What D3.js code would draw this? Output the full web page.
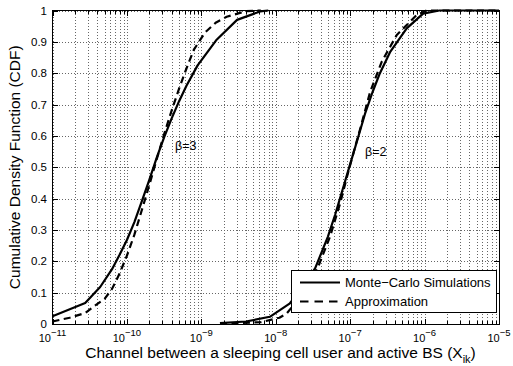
<!DOCTYPE html>
<html>
<head>
<meta charset="utf-8">
<script src="https://cdn.jsdelivr.net/npm/d3@7"></script>
<style>
  body { margin: 0; background: #fff; }
  text { font-family: "Liberation Sans", Arial, Helvetica, sans-serif; fill: #000; }
  .domain { display: none; }
  .grid line { stroke: #666; stroke-dasharray: 1,2; shape-rendering: crispEdges; }
  .ticks line { stroke: #000; shape-rendering: crispEdges; }
</style>
</head>
<body>
<div id="chart"></div>
<script>
// chart data
var xDecades = [1e-11, 1e-10, 1e-9, 1e-8, 1e-7, 1e-6, 1e-5];
var xExponents = ["\u221211", "\u221210", "\u22129", "\u22128", "\u22127", "\u22126", "\u22125"];
var yTicks = [0, 0.1, 0.2, 0.3, 0.4, 0.5, 0.6, 0.7, 0.8, 0.9, 1];
var yTickLabels = ["0", "0.1", "0.2", "0.3", "0.4", "0.5", "0.6", "0.7", "0.8", "0.9", "1"];
var legendNames = ["Monte\u2212Carlo Simulations", "Approximation"];
var curveLabels = ["\u03b2=3", "\u03b2=2"];

// beta = 3, Monte-Carlo
var beta3Sim = [
  [1.0e-11, 0.025], [2.75e-11, 0.067], [4.37e-11, 0.118], [6.31e-11, 0.175],
  [7.94e-11, 0.22], [1.0e-10, 0.268], [1.26e-10, 0.325], [1.58e-10, 0.39],
  [2.0e-10, 0.46], [2.51e-10, 0.53], [3.16e-10, 0.595], [3.98e-10, 0.655],
  [5.01e-10, 0.71], [6.31e-10, 0.76], [8.91e-10, 0.825], [1.58e-9, 0.905],
  [3.02e-9, 0.97], [6.17e-9, 0.997], [7.94e-9, 1.0]
];
// beta = 3, approximation
var beta3Approx = [
  [1.0e-11, 0.008], [1.70e-11, 0.02], [2.75e-11, 0.035], [3.55e-11, 0.055],
  [5.01e-11, 0.08], [6.31e-11, 0.112], [7.94e-11, 0.16], [1.0e-10, 0.218],
  [1.26e-10, 0.285], [1.58e-10, 0.362], [2.0e-10, 0.443], [2.51e-10, 0.525],
  [3.16e-10, 0.605], [3.98e-10, 0.68], [5.01e-10, 0.75], [6.31e-10, 0.815],
  [7.94e-10, 0.875], [1.12e-9, 0.93], [1.58e-9, 0.962], [2.19e-9, 0.98],
  [3.98e-9, 0.998], [6.31e-9, 1.0]
];
// beta = 2, Monte-Carlo
var beta2Sim = [
  [1.78e-9, 0.003], [3.98e-9, 0.008], [8.32e-9, 0.023], [1.55e-8, 0.066],
  [2.34e-8, 0.119], [3.39e-8, 0.178], [5.01e-8, 0.278], [6.31e-8, 0.35],
  [7.94e-8, 0.43], [1.0e-7, 0.51], [1.26e-7, 0.59], [1.58e-7, 0.67],
  [2.0e-7, 0.74], [2.51e-7, 0.80], [3.47e-7, 0.869], [5.75e-7, 0.943],
  [9.55e-7, 0.99], [1.58e-6, 1.0], [1.0e-5, 1.0]
];
// beta = 2, approximation
var beta2Approx = [
  [1.78e-9, 0.001], [6.31e-9, 0.006], [1.12e-8, 0.02], [1.41e-8, 0.034],
  [2.34e-8, 0.098], [3.72e-8, 0.183], [5.37e-8, 0.279], [7.33e-8, 0.385],
  [9.55e-8, 0.49], [1.12e-7, 0.55], [1.41e-7, 0.635], [1.86e-7, 0.741],
  [2.66e-7, 0.837], [4.23e-7, 0.922], [7.85e-7, 0.986], [1.07e-6, 1.0],
  [1.0e-5, 1.0]
];

var svgWidth = 513;
var svgHeight = 366;
var margin = {top: 10.5, right: 14, bottom: 42, left: 52.5};
var width = svgWidth - margin.left - margin.right;
var height = svgHeight - margin.top - margin.bottom;

var svg = d3.select("#chart")
  .append("svg")
  .attr("width", svgWidth)
  .attr("height", svgHeight);

var chartGroup = svg.append("g")
  .attr("transform", `translate(${margin.left}, ${margin.top})`);

var x = d3.scaleLog().domain([1e-11, 1e-5]).range([0, width]);
var y = d3.scaleLinear().domain([0, 1]).range([height, 0]);

// minor log positions 2..9 in every decade
var xMinor = [];
xDecades.slice(0, -1).forEach(function(d) {
  for (var k = 2; k <= 9; k++) xMinor.push(d * k);
});

// grid lines (dotted)
chartGroup.append("g").attr("class", "grid")
  .attr("transform", `translate(0, ${height})`)
  .call(d3.axisBottom(x).tickValues(xDecades.concat(xMinor)).tickSize(-height).tickFormat(""));
chartGroup.append("g").attr("class", "grid")
  .call(d3.axisLeft(y).tickValues(yTicks).tickSize(-width).tickFormat(""));

// inward tick marks on all four sides
chartGroup.append("g").attr("class", "ticks")
  .attr("transform", `translate(0, ${height})`)
  .call(d3.axisBottom(x).tickValues(xDecades).tickSize(-5).tickFormat(""));
chartGroup.append("g").attr("class", "ticks")
  .attr("transform", `translate(0, ${height})`)
  .call(d3.axisBottom(x).tickValues(xMinor).tickSize(-3).tickFormat(""));
chartGroup.append("g").attr("class", "ticks")
  .call(d3.axisTop(x).tickValues(xDecades).tickSize(-5).tickFormat(""));
chartGroup.append("g").attr("class", "ticks")
  .call(d3.axisTop(x).tickValues(xMinor).tickSize(-3).tickFormat(""));
chartGroup.append("g").attr("class", "ticks")
  .call(d3.axisLeft(y).tickValues(yTicks).tickSize(-5).tickFormat(""));
chartGroup.append("g").attr("class", "ticks")
  .attr("transform", `translate(${width}, 0)`)
  .call(d3.axisRight(y).tickValues(yTicks).tickSize(-5).tickFormat(""));

// frame
chartGroup.append("rect")
  .attr("width", width)
  .attr("height", height)
  .attr("fill", "none")
  .attr("stroke", "#000")
  .attr("stroke-width", 1)
  .attr("shape-rendering", "crispEdges");

// curves
var line = d3.line()
  .x(d => x(d[0]))
  .y(d => y(d[1]));

var curves = [
  {data: beta3Sim, dash: null},
  {data: beta3Approx, dash: "7,4.5"},
  {data: beta2Sim, dash: null},
  {data: beta2Approx, dash: "7,4.5"}
];
curves.forEach(function(c) {
  chartGroup.append("path")
    .datum(c.data)
    .attr("d", line)
    .attr("fill", "none")
    .attr("stroke", "#000")
    .attr("stroke-width", 2.2)
    .attr("stroke-linejoin", "round")
    .attr("stroke-dasharray", c.dash);
});

// y tick labels
chartGroup.selectAll(".ylab")
  .data(yTicks)
  .enter()
  .append("text")
  .attr("x", -5.5)
  .attr("y", d => y(d))
  .attr("dy", "0.36em")
  .attr("text-anchor", "end")
  .attr("font-size", "11.5px")
  .text((d, i) => yTickLabels[i]);

// x tick labels with exponents
var xLab = chartGroup.selectAll(".xlab")
  .data(xDecades)
  .enter()
  .append("text")
  .attr("x", d => x(d))
  .attr("y", height + 17.5)
  .attr("text-anchor", "middle")
  .attr("font-size", "11px");
xLab.append("tspan").text("10");
xLab.append("tspan")
  .attr("dy", -6)
  .attr("font-size", "9.5px")
  .text((d, i) => xExponents[i]);

// axis titles
var xTitle = chartGroup.append("text")
  .attr("x", 228)
  .attr("y", height + 34)
  .attr("text-anchor", "middle")
  .attr("font-size", "15.5px")
  .text("Channel between a sleeping cell user and active BS (X");
xTitle.append("tspan").attr("dy", 4.5).attr("font-size", "11px").text("ik");
xTitle.append("tspan").attr("dy", -4.5).text(")");

chartGroup.append("text")
  .attr("transform", `translate(-32.5, ${height / 2}) rotate(-90)`)
  .attr("text-anchor", "middle")
  .attr("font-size", "15.5px")
  .text("Cumulative Density Function (CDF)");

// curve annotations
chartGroup.append("text")
  .attr("x", 175 - margin.left)
  .attr("y", 149.5 - margin.top)
  .attr("font-size", "12.5px")
  .text(curveLabels[0]);
chartGroup.append("text")
  .attr("x", 365 - margin.left)
  .attr("y", 155.5 - margin.top)
  .attr("font-size", "12.5px")
  .text(curveLabels[1]);

// legend
var legend = chartGroup.append("g")
  .attr("transform", `translate(${291.5 - margin.left}, ${270.5 - margin.top})`);
legend.append("rect")
  .attr("width", 205)
  .attr("height", 42)
  .attr("fill", "#fff")
  .attr("stroke", "#000")
  .attr("shape-rendering", "crispEdges");
[null, "8.5,6"].forEach(function(dash, i) {
  legend.append("line")
    .attr("x1", 8.5)
    .attr("x2", 48.5)
    .attr("y1", 12 + i * 19)
    .attr("y2", 12 + i * 19)
    .attr("stroke", "#000")
    .attr("stroke-width", 2.2)
    .attr("stroke-dasharray", dash);
  legend.append("text")
    .attr("x", 53.5)
    .attr("y", 12 + i * 19)
    .attr("dy", "0.36em")
    .attr("font-size", "13px")
    .text(legendNames[i]);
});
</script>
</body>
</html>
